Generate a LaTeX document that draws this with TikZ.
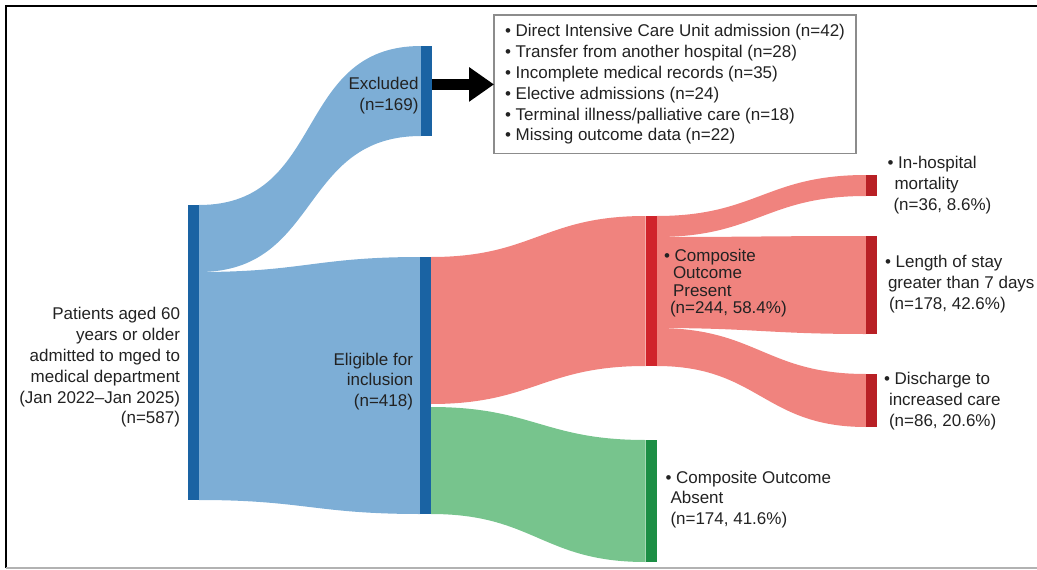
\documentclass[tikz,border=0pt]{standalone}
\usepackage{fontspec}
\setmainfont{Liberation Sans}
\usetikzlibrary{arrows.meta,backgrounds}

\definecolor{flowblue}{HTML}{7DAED6}
\definecolor{barblue}{HTML}{1A63A3}
\definecolor{flowred}{HTML}{F0837E}
\definecolor{barred}{HTML}{D0242B}
\definecolor{bardarkred}{HTML}{B82025}
\definecolor{flowgreen}{HTML}{77C48D}
\definecolor{bargreen}{HTML}{1C8E45}
\definecolor{txtgray}{HTML}{222222}
\definecolor{boxgray}{HTML}{8C8C8C}

\tikzset{
  bar/.style={rectangle, inner sep=0pt, outer sep=0pt, minimum width=11pt},
  lbl/.style={inner sep=0pt, outer sep=0pt, text=txtgray, align=left,
    font=\fontsize{17}{20.8}\selectfont},
  listbox/.style={draw=boxgray, line width=1.3pt, fill=white, inner xsep=11pt,
    inner ysep=9.5pt, outer sep=0pt, text=txtgray, align=left,
    font=\fontsize{17}{20.8}\selectfont},
}

% ribbon: colour, source top, source bottom, target top, target bottom
\newcommand{\ribbon}[5]{%
  \fill[#1] (#2) to[out=0,in=180,looseness=1.2] (#4) -- (#5)
    to[out=180,in=0,looseness=1.2] (#3) -- cycle;}

\begin{document}
\begin{tikzpicture}[x=1pt, y=-1pt]
  \useasboundingbox (0,0) rectangle (1037,570);

  % Rahmen
  \draw[line width=2.2pt] (6,568) -- (6,6) -- (1037,6);
  \draw[gray!60, line width=1.2pt] (6,568) -- (1037,568);

  % Balken
  \node[bar, fill=barblue, minimum height=295pt] (src) at (193.5,352.5) {};
  \node[bar, fill=barblue, minimum height=90pt] (excl) at (426.5,91) {};
  \node[bar, fill=barblue, minimum height=257pt] (elig) at (425.5,385.5) {};
  \node[bar, fill=barred, minimum height=150pt] (pres) at (651,291) {};
  \node[bar, fill=bargreen, minimum height=122pt] (abs) at (651,501) {};
  \node[bar, fill=bardarkred, minimum height=21pt] (mort) at (871.5,185.5) {};
  \node[bar, fill=bardarkred, minimum height=98pt] (los) at (871.5,285) {};
  \node[bar, fill=bardarkred, minimum height=53pt] (disc) at (871.5,400.5) {};

  % Teilungspunkte
  \coordinate (srcsplit) at ([yshift=-67pt]src.north east);
  \coordinate (eligred) at ([yshift=-147pt]elig.north east);
  \coordinate (eliggreen) at ([yshift=-150pt]elig.north east);
  \coordinate (presmort) at ([yshift=-21pt]pres.north east);
  \coordinate (preslos) at ([yshift=-112pt]pres.north east);

  % Stroeme
  \begin{scope}[on background layer]
    \ribbon{flowblue}{src.north east}{srcsplit}{excl.north west}{excl.south west}
    \ribbon{flowblue}{srcsplit}{src.south east}{elig.north west}{elig.south west}
    \ribbon{flowred}{elig.north east}{eligred}{pres.north west}{pres.south west}
    \ribbon{flowgreen}{eliggreen}{elig.south east}{abs.north west}{abs.south west}
    \ribbon{flowred}{pres.north east}{presmort}{mort.north west}{mort.south west}
    \ribbon{flowred}{presmort}{preslos}{los.north west}{los.south west}
    \ribbon{flowred}{preslos}{pres.south east}{disc.north west}{disc.south west}
  \end{scope}

  % Beschriftungen
  \node[lbl, anchor=east, align=right] (srclbl) at (180,367.5)
    {Patients aged 60\\years or older\hspace*{3pt}\\admitted to mged to\\medical department\\(Jan 2022–Jan 2025)\\(n=587)};
  \node[lbl, anchor=east, align=right] (excllbl) at (418.5,95.5) {Excluded\\(n=169)};
  \node[lbl, anchor=east, align=right] (eliglbl) at (413,381.5) {Eligible for\\inclusion\\(n=418)};
  \node[lbl, anchor=west, font=\fontsize{17}{17.5}\selectfont] (preslbl) at (664,283)
    {• Composite\\\hspace*{9pt}Outcome\\\hspace*{9pt}Present\\\hspace*{6pt}(n=244, 58.4\%)};
  \node[lbl, anchor=west] (abslbl) at (665.5,499.5)
    {• Composite Outcome\\\hspace*{5pt}Absent\\\hspace*{5pt}(n=174, 41.6\%)};
  \node[lbl, anchor=west] (mortlbl) at (887.5,185)
    {• In-hospital\\\hspace*{7pt}mortality\\\hspace*{6pt}(n=36, 8.6\%)};
  \node[lbl, anchor=west] (loslbl) at (885,284)
    {• Length of stay\\\hspace*{3pt}greater than 7 days\\\hspace*{4pt}(n=178, 42.6\%)};
  \node[lbl, anchor=west] (disclbl) at (884,401)
    {• Discharge to\\\hspace*{5pt}increased care\\\hspace*{5pt}(n=86, 20.6\%)};

  % Ausschlussgruende
  \node[listbox, anchor=north west] (box) at (494,15)
    {• Direct Intensive Care Unit admission (n=42)\\
     • Transfer from another hospital (n=28)\\
     • Incomplete medical records (n=35)\\
     • Elective admissions (n=24)\\
     • Terminal illness/palliative care (n=18)\\
     • Missing outcome data (n=22)};
  \draw[line width=11pt, -{Triangle[length=25pt,width=33pt]}]
    (excl.east |- box.west) -- (box.west);
\end{tikzpicture}
\end{document}
